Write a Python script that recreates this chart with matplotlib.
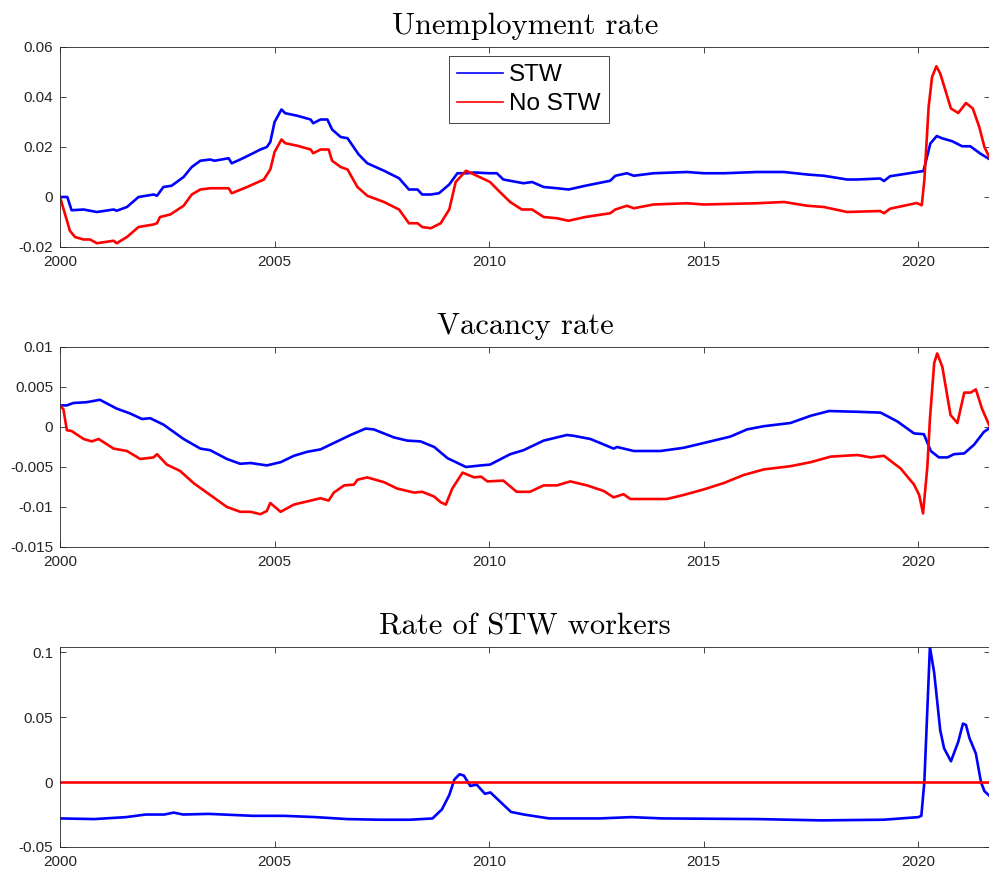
import matplotlib
matplotlib.use("Agg")
import matplotlib.pyplot as plt
from matplotlib.ticker import FuncFormatter

# ---- data (year, value) ----
u_stw_t = [2000.00, 2000.17, 2000.27, 2000.55, 2000.70, 2000.86, 2001.25, 2001.32, 2001.56, 2001.83,
           2002.18, 2002.26, 2002.41, 2002.60, 2002.88, 2003.07, 2003.27, 2003.50, 2003.60, 2003.93,
           2004.00, 2004.20, 2004.44, 2004.67, 2004.82, 2004.90, 2005.00, 2005.16, 2005.25, 2005.53,
           2005.84, 2005.90, 2006.07, 2006.23, 2006.34, 2006.54, 2006.70, 2006.96, 2007.16, 2007.55,
           2007.90, 2008.13, 2008.33, 2008.44, 2008.64, 2008.83, 2009.07, 2009.26, 2009.49, 2009.65,
           2010.00, 2010.18, 2010.33, 2010.80, 2011.00, 2011.27, 2011.58, 2011.85, 2012.24, 2012.82,
           2012.94, 2013.21, 2013.37, 2013.83, 2014.61, 2015.00, 2015.47, 2016.24, 2016.87, 2017.41,
           2017.80, 2018.34, 2018.57, 2019.11, 2019.20, 2019.34, 2020.12, 2020.28, 2020.43, 2020.55,
           2020.79, 2021.02, 2021.21, 2021.45, 2021.67]
u_stw = [0.0, 0.0, -0.0053, -0.005, -0.0055, -0.006, -0.005, -0.0055, -0.004, 0.0,
         0.001, 0.0005, 0.004, 0.0045, 0.008, 0.012, 0.0145, 0.015, 0.0145, 0.0155,
         0.0135, 0.015, 0.017, 0.019, 0.020, 0.022, 0.030, 0.035, 0.0335, 0.0325,
         0.031, 0.0295, 0.031, 0.031, 0.027, 0.024, 0.0235, 0.017, 0.0135, 0.0105,
         0.0075, 0.003, 0.003, 0.001, 0.001, 0.0015, 0.005, 0.0095, 0.0095, 0.0098,
         0.0095, 0.0095, 0.007, 0.0055, 0.006, 0.004, 0.0035, 0.003, 0.0045, 0.0065,
         0.0085, 0.0095, 0.0085, 0.0095, 0.010, 0.0095, 0.0095, 0.010, 0.010, 0.009,
         0.0085, 0.007, 0.007, 0.0074, 0.0064, 0.0083, 0.0104, 0.0214, 0.0244, 0.0235,
         0.0223, 0.0203, 0.0203, 0.0173, 0.0150]

u_nostw_t = [2000.00, 2000.12, 2000.23, 2000.35, 2000.55, 2000.70, 2000.86, 2001.25, 2001.32, 2001.56,
             2001.83, 2002.18, 2002.26, 2002.33, 2002.57, 2002.88, 2003.07, 2003.27, 2003.50, 2003.93,
             2004.00, 2004.36, 2004.75, 2004.90, 2005.00, 2005.16, 2005.25, 2005.53, 2005.84, 2005.90,
             2006.07, 2006.26, 2006.34, 2006.54, 2006.70, 2006.93, 2007.16, 2007.55, 2007.90, 2008.13,
             2008.33, 2008.44, 2008.64, 2008.87, 2009.07, 2009.22, 2009.46, 2009.65, 2009.96, 2010.02,
             2010.22, 2010.49, 2010.76, 2011.00, 2011.27, 2011.58, 2011.85, 2012.24, 2012.82, 2012.94,
             2013.21, 2013.37, 2013.83, 2014.61, 2015.00, 2016.24, 2016.87, 2017.41, 2017.80, 2018.34,
             2019.11, 2019.20, 2019.34, 2019.96, 2020.08, 2020.14, 2020.24, 2020.32, 2020.42, 2020.51,
             2020.63, 2020.76, 2020.93, 2021.11, 2021.27, 2021.42, 2021.54, 2021.67]
u_nostw = [0.0, -0.007, -0.0135, -0.016, -0.017, -0.017, -0.0185, -0.0175, -0.0185, -0.016,
           -0.012, -0.011, -0.0105, -0.008, -0.007, -0.0035, 0.001, 0.003, 0.0035, 0.0035,
           0.0015, 0.004, 0.007, 0.011, 0.018, 0.023, 0.0215, 0.0205, 0.019, 0.0175,
           0.019, 0.019, 0.0145, 0.012, 0.011, 0.004, 0.0005, -0.002, -0.005, -0.0105,
           -0.0105, -0.012, -0.0125, -0.0105, -0.005, 0.006, 0.0105, 0.009, 0.0065, 0.006,
           0.0025, -0.002, -0.005, -0.005, -0.008, -0.0085, -0.0095, -0.008, -0.0065, -0.005,
           -0.0035, -0.0045, -0.003, -0.0025, -0.003, -0.0025, -0.002, -0.0035, -0.004, -0.006,
           -0.0056, -0.0065, -0.0047, -0.0024, -0.0033, 0.0067, 0.036, 0.048, 0.0523, 0.0494,
           0.0427, 0.0354, 0.0336, 0.0376, 0.0354, 0.028, 0.020, 0.0154]

v_stw_t = [2000.00, 2000.16, 2000.31, 2000.62, 2000.93, 2001.32, 2001.63, 2001.91, 2002.10, 2002.41,
           2002.88, 2003.27, 2003.50, 2003.89, 2004.20, 2004.44, 2004.82, 2005.14, 2005.45, 2005.76,
           2006.07, 2006.38, 2006.77, 2007.12, 2007.31, 2007.78, 2008.09, 2008.40, 2008.72, 2009.03,
           2009.46, 2009.81, 2010.02, 2010.49, 2010.80, 2011.27, 2011.81, 2011.97, 2012.36, 2012.90,
           2012.98, 2013.37, 2013.99, 2014.53, 2015.00, 2015.62, 2016.01, 2016.40, 2017.02, 2017.49,
           2017.92, 2018.58, 2019.12, 2019.51, 2019.90, 2020.13, 2020.29, 2020.48, 2020.68, 2020.83,
           2021.07, 2021.30, 2021.53, 2021.67]
v_stw = [0.0027, 0.0027, 0.003, 0.0031, 0.0034, 0.0023, 0.0017, 0.001, 0.0011, 0.0003,
         -0.0015, -0.0027, -0.0029, -0.004, -0.0046, -0.0045, -0.0048, -0.0044, -0.0036, -0.0031,
         -0.0028, -0.002, -0.001, -0.0002, -0.0003, -0.0013, -0.0017, -0.0018, -0.0025, -0.0039,
         -0.005, -0.0048, -0.0047, -0.0034, -0.0029, -0.0017, -0.001, -0.0011, -0.0015, -0.0027,
         -0.0025, -0.003, -0.003, -0.0026, -0.002, -0.0012, -0.0003, 0.0001, 0.0005, 0.0014,
         0.002, 0.0019, 0.0018, 0.0007, -0.0008, -0.0009, -0.003, -0.0038, -0.0038, -0.0034,
         -0.0033, -0.0022, -0.0006, -0.0001]

v_nostw_t = [2000.00, 2000.08, 2000.16, 2000.27, 2000.55, 2000.74, 2000.90, 2001.25, 2001.56, 2001.87,
             2002.18, 2002.26, 2002.49, 2002.80, 2003.11, 2003.50, 2003.89, 2004.20, 2004.44, 2004.67,
             2004.82, 2004.90, 2005.14, 2005.45, 2005.76, 2006.07, 2006.26, 2006.38, 2006.62, 2006.85,
             2006.93, 2007.16, 2007.55, 2007.86, 2008.25, 2008.44, 2008.72, 2008.87, 2008.99, 2009.14,
             2009.38, 2009.65, 2009.81, 2009.96, 2010.33, 2010.64, 2010.95, 2011.27, 2011.58, 2011.89,
             2012.28, 2012.67, 2012.90, 2013.13, 2013.29, 2013.76, 2014.14, 2014.53, 2015.00, 2015.47,
             2015.93, 2016.40, 2017.02, 2017.49, 2017.96, 2018.58, 2018.89, 2019.20, 2019.59, 2019.90,
             2020.02, 2020.11, 2020.21, 2020.27, 2020.37, 2020.44, 2020.56, 2020.75, 2020.91, 2021.07,
             2021.22, 2021.34, 2021.49, 2021.67]
v_nostw = [0.0027, 0.0022, -0.0004, -0.0005, -0.0015, -0.0018, -0.0015, -0.0027, -0.003, -0.004,
           -0.0038, -0.0034, -0.0047, -0.0055, -0.007, -0.0085, -0.010, -0.0106, -0.0106, -0.0109,
           -0.0105, -0.0095, -0.0106, -0.0097, -0.0093, -0.0089, -0.0092, -0.0082, -0.0073, -0.0072,
           -0.0066, -0.0063, -0.0069, -0.0077, -0.0082, -0.0081, -0.0087, -0.0094, -0.0097, -0.0077,
           -0.0057, -0.0063, -0.0062, -0.0068, -0.0067, -0.0081, -0.0081, -0.0073, -0.0073, -0.0068,
           -0.0073, -0.008, -0.0088, -0.0084, -0.009, -0.009, -0.009, -0.0085, -0.0078, -0.007,
           -0.006, -0.0053, -0.0049, -0.0044, -0.0037, -0.0035, -0.0038, -0.0036, -0.0052, -0.0072,
           -0.0085, -0.0108, -0.005, 0.001, 0.008, 0.0092, 0.0075, 0.0015, 0.0005, 0.0043,
           0.0043, 0.0047, 0.0022, 0.0]

s_stw_t = [2000.00, 2000.80, 2001.54, 2001.99, 2002.43, 2002.65, 2002.87, 2003.46, 2004.49, 2005.22,
           2005.96, 2006.69, 2007.43, 2008.16, 2008.68, 2008.90, 2009.07, 2009.19, 2009.31, 2009.41,
           2009.56, 2009.71, 2009.90, 2010.03, 2010.22, 2010.51, 2010.81, 2011.40, 2012.57, 2013.31,
           2014.04, 2016.25, 2017.72, 2019.19, 2020.00, 2020.07, 2020.14, 2020.27, 2020.37, 2020.51,
           2020.60, 2020.76, 2020.93, 2021.04, 2021.11, 2021.19, 2021.34, 2021.46, 2021.54, 2021.67]
s_stw = [-0.028, -0.0285, -0.027, -0.025, -0.025, -0.0235, -0.025, -0.0245, -0.026, -0.026,
         -0.027, -0.0285, -0.029, -0.029, -0.028, -0.021, -0.010, 0.002, 0.006, 0.005,
         -0.003, -0.002, -0.009, -0.008, -0.014, -0.023, -0.025, -0.028, -0.028, -0.027,
         -0.028, -0.0285, -0.0295, -0.029, -0.027, -0.026, 0.0, 0.104, 0.084, 0.040,
         0.026, 0.016, 0.031, 0.045, 0.044, 0.034, 0.022, 0.0, -0.007, -0.011]

s_nostw_t = [2000.00, 2021.67]
s_nostw = [0.0, 0.0]

x_ticks = [2000, 2005, 2010, 2015, 2020]
titles = ["Unemployment rate", "Vacancy rate", "Rate of STW workers"]
series_labels = ["STW", "No STW"]

# ---- figure ----
W, H = 989, 873
fig = plt.figure(figsize=(W / 100, H / 100), dpi=100)
plt.rcParams["font.family"] = ["Liberation Sans", "DejaVu Sans"]
plt.rcParams["axes.unicode_minus"] = False

tick_col = "#262626"
fmt = FuncFormatter(lambda v, p: "%g" % round(v, 6))

# axes boxes in pixels: (top, bottom)
boxes = [(47, 247), (347, 547), (647, 847)]
left_px, right_px = 60, 990
axes = []
for top, bot in boxes:
    ax = fig.add_axes([left_px / W, 1 - bot / H, (right_px - left_px) / W, (bot - top) / H])
    axes.append(ax)

panels = [
    (u_stw_t, u_stw, u_nostw_t, u_nostw, (-0.02, 0.06), [-0.02, 0, 0.02, 0.04, 0.06]),
    (v_stw_t, v_stw, v_nostw_t, v_nostw, (-0.015, 0.01), [-0.015, -0.01, -0.005, 0, 0.005, 0.01]),
    (s_stw_t, s_stw, s_nostw_t, s_nostw, (-0.05, 0.104), [-0.05, 0, 0.05, 0.1]),
]

for i, (ax, (bt, bv, rt, rv, ylim, yt)) in enumerate(zip(axes, panels)):
    ax.plot(bt, bv, color=(0, 0, 1), lw=1.9, label=series_labels[0])
    ax.plot(rt, rv, color=(1, 0, 0), lw=1.9, label=series_labels[1])
    ax.set_xlim(2000, 2021.67)
    ax.set_ylim(*ylim)
    ax.set_xticks(x_ticks)
    ax.set_yticks(yt)
    ax.yaxis.set_major_formatter(fmt)
    ax.tick_params(direction="in", length=4.5, width=0.6, top=True, right=True,
                   labelsize=11, colors=tick_col)
    ax.tick_params(axis="x", pad=6)
    ax.tick_params(axis="y", pad=5)
    for sp in ax.spines.values():
        sp.set_color(tick_col)
        sp.set_linewidth(0.6)
    ax.set_title(titles[i], fontfamily="cmr10", fontsize=22, pad=9, color="black")

    if i == 0:
        leg = ax.legend(loc="upper left", bbox_to_anchor=(0.418, 0.955), borderaxespad=0,
                        fontsize=17.5, handlelength=1.9, handletextpad=0.25,
                        labelspacing=0.3, borderpad=0.33, fancybox=False, framealpha=1,
                        edgecolor=tick_col)
        leg.get_frame().set_linewidth(0.6)
        for h in leg.get_lines():
            h.set_linewidth(1.2)

fig.savefig("out.png", dpi=100)
